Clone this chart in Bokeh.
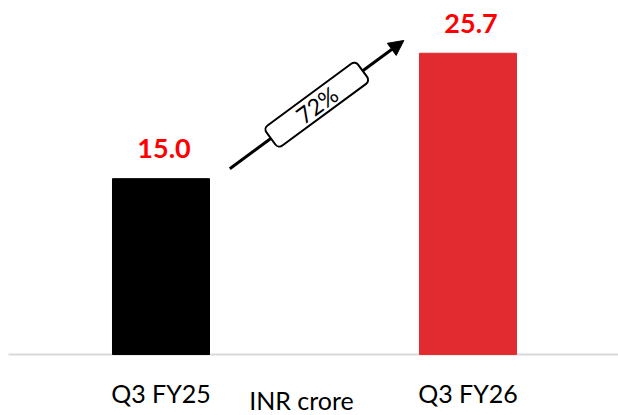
import math
from bokeh.plotting import figure
from bokeh.models import Range1d, Arrow, NormalHead
from bokeh.core.properties import value
from bokeh.embed import file_html
from bokeh.resources import INLINE

# ---- data ----
categories = ["Q3 FY25", "Q3 FY26"]
values = [15.0, 25.7]
value_labels = ["15.0", "25.7"]
bar_colors = ["#000000", "#e22b30"]
growth_label = "72%"
unit_label = "INR crore"

# ---- layout constants ----
W, H = 618, 415
X0, X1 = -0.5228, 1.4902
Y0, Y1 = -5.205, 30.2
FONT = "Lato"

PXX = W / (X1 - X0)
PXY = H / (Y1 - Y0)

xs = list(range(len(categories)))

p = figure(width=W, height=H, output_backend="svg", toolbar_location=None,
           x_range=Range1d(X0, X1), y_range=Range1d(Y0, Y1),
           min_border=0, x_axis_location=None, y_axis_location=None)
p.grid.visible = False
p.outline_line_color = None
p.background_fill_color = "white"
p.border_fill_color = "white"

# baseline (category axis line)
p.segment(x0=[X0 + 8 / PXX], x1=[X1], y0=[0], y1=[0], line_color="#d9d9d9",
          line_width=2)

p.vbar(x=xs, top=values, bottom=0, width=0.316, color=bar_colors)

# category labels
p.text(x=xs, y=[0] * len(xs), text=categories, text_align="center",
       text_baseline="middle", y_offset=39, text_font=value(FONT),
       text_font_size="25px", text_color="black")
p.text(x=[sum(xs) / len(xs)], y=[0], text=[unit_label], text_align="center",
       text_baseline="middle", x_offset=-13, y_offset=46,
       text_font=value(FONT), text_font_size="25px", text_color="black")

# value labels
p.text(x=xs, y=values, text=value_labels, text_align="center",
       text_baseline="middle", x_offset=3, y_offset=-30,
       text_font=value(FONT), text_font_style="bold", text_font_size="27px",
       text_color="#ff0000")

# growth arrow between bars
xs0, ys0 = xs[0] + 0.224, values[0] + 0.84
xe, ye = xs[1] - 0.209, values[1] + 1.09
p.add_layout(Arrow(x_start=xs0, y_start=ys0, x_end=xe, y_end=ye, line_width=3,
                   line_color="black",
                   end=NormalHead(size=15, fill_color="black", line_color="black")))
ang = math.atan2((ye - ys0) * PXY, (xe - xs0) * PXX)
mx, my = (xs0 + xe) / 2, (ys0 + ye) / 2
p.rect(x=[mx], y=[my], width=114, height=25, width_units="screen",
       height_units="screen", angle=ang, fill_color="white", line_color="black",
       line_width=2, border_radius=5, level="overlay")
p.text(x=[mx], y=[my], text=[growth_label], angle=ang, text_align="center",
       text_baseline="middle", text_font=value(FONT), text_font_size="23px",
       text_color="black", level="overlay")

open("out.html", "w").write(file_html(p, INLINE))
